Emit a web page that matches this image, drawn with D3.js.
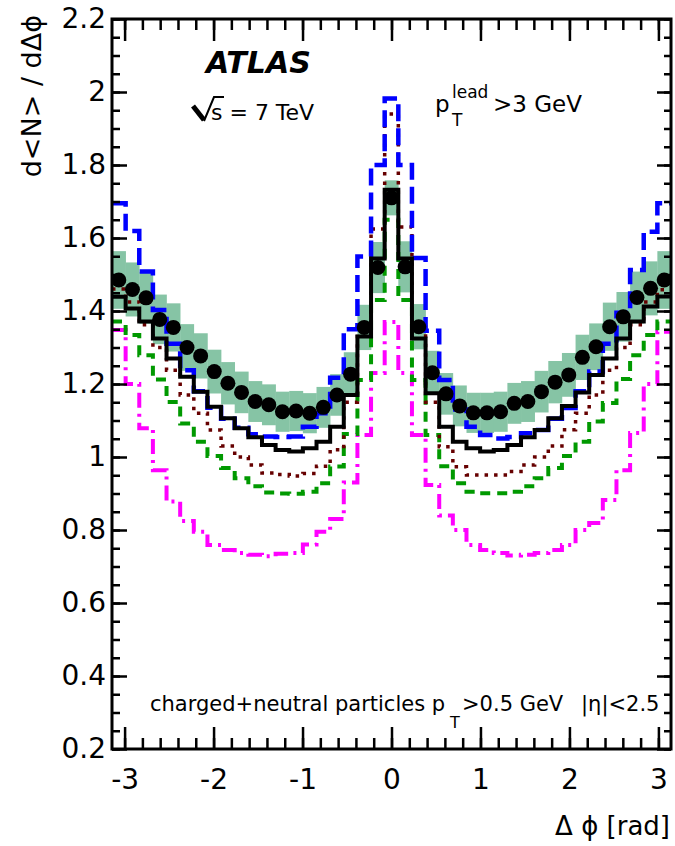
<!DOCTYPE html>
<html><head><meta charset="utf-8">
<script src="https://cdn.jsdelivr.net/npm/d3@7"></script>
<style>body{margin:0;background:#fff}svg{display:block}text{font-family:"DejaVu Sans",sans-serif;fill:#000}</style>
</head><body><svg id="c" width="675" height="846"></svg>
<script>
// ---- data (41 bins over -pi..pi) ----
const nBins = 41;
const dataVals = [1.485,1.459,1.436,1.377,1.355,1.300,1.277,1.234,1.202,1.177,1.152,1.143,1.124,1.126,1.120,1.136,1.170,1.227,1.355,1.519,1.710,1.521,1.357,1.231,1.173,1.140,1.121,1.121,1.124,1.147,1.152,1.179,1.205,1.225,1.273,1.302,1.357,1.384,1.437,1.462,1.485];
const dataErr = [0.079,0.074,0.071,0.068,0.066,0.064,0.062,0.060,0.058,0.057,0.056,0.056,0.055,0.055,0.055,0.056,0.057,0.060,0.062,0.070,0.048,0.070,0.062,0.060,0.057,0.056,0.055,0.055,0.055,0.056,0.056,0.057,0.058,0.060,0.062,0.064,0.066,0.068,0.071,0.074,0.079];
const blackVals = [1.439,1.407,1.371,1.325,1.270,1.220,1.179,1.138,1.106,1.079,1.054,1.033,1.019,1.015,1.024,1.042,1.083,1.170,1.330,1.544,1.732,1.544,1.325,1.175,1.083,1.042,1.024,1.015,1.019,1.033,1.054,1.074,1.106,1.140,1.177,1.225,1.270,1.325,1.371,1.412,1.440];
const blueVals = [1.695,1.619,1.508,1.403,1.310,1.238,1.180,1.135,1.105,1.080,1.062,1.056,1.055,1.056,1.083,1.120,1.217,1.350,1.549,1.800,1.982,1.800,1.545,1.346,1.211,1.130,1.083,1.060,1.051,1.055,1.065,1.074,1.105,1.134,1.180,1.234,1.310,1.395,1.512,1.617,1.695];
const brownVals = [1.460,1.425,1.362,1.300,1.238,1.170,1.120,1.074,1.030,1.000,0.978,0.956,0.952,0.948,0.955,0.975,1.020,1.150,1.354,1.625,1.940,1.630,1.356,1.150,1.028,0.973,0.951,0.951,0.951,0.960,0.978,1.000,1.030,1.075,1.120,1.170,1.238,1.300,1.362,1.425,1.458];
const greenVals = [1.371,1.334,1.279,1.212,1.151,1.092,1.042,1.003,0.970,0.942,0.920,0.903,0.900,0.899,0.905,0.928,0.974,1.063,1.211,1.430,1.650,1.430,1.211,1.060,0.975,0.928,0.905,0.901,0.901,0.905,0.920,0.942,0.970,1.003,1.042,1.097,1.148,1.214,1.279,1.334,1.371];
const magentaVals = [1.348,1.200,1.079,0.964,0.878,0.825,0.795,0.759,0.745,0.737,0.732,0.728,0.735,0.737,0.760,0.795,0.830,0.930,1.060,1.230,1.370,1.230,1.060,0.923,0.840,0.800,0.759,0.745,0.737,0.730,0.732,0.737,0.745,0.759,0.800,0.819,0.882,0.964,1.066,1.200,1.343];
const xTickVals = [-3,-2,-1,0,1,2,3];
const xTickLabels = ["-3","-2","-1","0","1","2","3"];
const yTickVals = [0.2,0.4,0.6,0.8,1.0,1.2,1.4,1.6,1.8,2.0,2.2];
const yTickLabels = ["0.2","0.4","0.6","0.8","1","1.2","1.4","1.6","1.8","2","2.2"];

// ---- layout ----
const L = 112, R = 671, T = 19, B = 749;
const svg = d3.select("#c");
const x = d3.scaleLinear().domain([-Math.PI, Math.PI]).range([L, R]);
const y = d3.scaleLinear().domain([0.2, 2.2]).range([B, T]);
const bw = 2*Math.PI/nBins;
const lo = i => -Math.PI + i*bw, hi = i => -Math.PI + (i+1)*bw, mid = i => -Math.PI + (i+0.5)*bw;

svg.append("defs").append("clipPath").attr("id","clip").append("rect")
  .attr("x",L).attr("y",T).attr("width",R-L).attr("height",B-T);
const g = svg.append("g").attr("clip-path","url(#clip)");

// band
g.selectAll("rect.band").data(dataVals).join("rect").attr("class","band")
  .attr("x",(d,i)=>x(lo(i))).attr("width",(d,i)=>x(hi(i))-x(lo(i))+0.3)
  .attr("y",(d,i)=>y(d+dataErr[i])).attr("height",(d,i)=>y(d-dataErr[i])-y(d+dataErr[i]))
  .attr("fill","#86c4a5");

const stepLine = d3.line().x(p=>x(p[0])).y(p=>y(p[1]));
function hist(vals, color, width, dash){
  const pts = [];
  vals.forEach((v,i)=>{pts.push([lo(i),v]);pts.push([hi(i),v]);});
  g.append("path").attr("d",stepLine(pts)).attr("fill","none")
    .attr("stroke",color).attr("stroke-width",width)
    .attr("stroke-dasharray",dash||null).attr("stroke-linejoin","miter");
}
hist(magentaVals,"#ff00ff",4,"15,6,3,6");
hist(greenVals,"#009900",4,"10,7");
hist(brownVals,"#660000",3.5,"3.5,6");
hist(blueVals,"#0000ff",4.5,"17,7");
hist(blackVals,"#000",4);

g.selectAll("circle.pt").data(dataVals).join("circle").attr("class","pt")
  .attr("cx",(d,i)=>x(mid(i))).attr("cy",d=>y(d)).attr("r",7.5).attr("fill","#000");

// ---- axes ----
const xMinor = d3.range(-3.0, 3.01, 0.2).map(v=>+v.toFixed(2));
const yMinor = d3.range(0.2, 2.201, 0.05).map(v=>+v.toFixed(2));
function styleAx(sel){ sel.select(".domain").remove(); sel.selectAll("line").attr("stroke","#000").attr("stroke-width",2.5); sel.selectAll("text").style("font-size","28px").attr("fill","#000"); }

svg.append("g").attr("transform",`translate(0,${B})`).call(d3.axisBottom(x).tickValues(xMinor).tickSize(-11).tickFormat("")).call(styleAx);
svg.append("g").attr("transform",`translate(0,${B})`).call(d3.axisBottom(x).tickValues(xTickVals).tickSize(-22).tickPadding(20).tickFormat((d,i)=>xTickLabels[i])).call(styleAx);
svg.append("g").attr("transform",`translate(0,${T})`).call(d3.axisTop(x).tickValues(xMinor).tickSize(-11).tickFormat("")).call(styleAx);
svg.append("g").attr("transform",`translate(0,${T})`).call(d3.axisTop(x).tickValues(xTickVals).tickSize(-22).tickFormat("")).call(styleAx);

svg.append("g").attr("transform",`translate(${L},0)`).call(d3.axisLeft(y).tickValues(yMinor).tickSize(-8).tickFormat("")).call(styleAx);
svg.append("g").attr("transform",`translate(${L},0)`).call(d3.axisLeft(y).tickValues(yTickVals).tickSize(-15).tickPadding(6).tickFormat((d,i)=>yTickLabels[i])).call(styleAx);
svg.append("g").attr("transform",`translate(${R},0)`).call(d3.axisRight(y).tickValues(yMinor).tickSize(-7).tickFormat("")).call(styleAx);
svg.append("g").attr("transform",`translate(${R},0)`).call(d3.axisRight(y).tickValues(yTickVals).tickSize(-14).tickFormat("")).call(styleAx);

svg.append("rect").attr("x",L).attr("y",T).attr("width",R-L).attr("height",B-T)
  .attr("fill","none").attr("stroke","#000").attr("stroke-width",3);

// ---- titles ----
svg.append("text").attr("x",670).attr("y",835).attr("text-anchor","end").style("font-size","26px").text("Δ ϕ [rad]");
svg.append("text").attr("transform","translate(41,15) rotate(-90)").attr("text-anchor","end").style("font-size","27px").text("d<N> / dΔϕ");

svg.append("text").attr("x",206).attr("y",73).style("font-size","30px").style("font-weight","bold").style("font-style","italic").text("ATLAS");
// sqrt(s)
svg.append("path").attr("d","M193,106 L204,120").attr("stroke","#000").attr("stroke-width",5).attr("fill","none");
svg.append("path").attr("d","M204,121 L214,97 L224,97").attr("stroke","#000").attr("stroke-width",2).attr("fill","none");
svg.append("text").attr("x",211).attr("y",120).style("font-size","22px").text("s = 7 TeV");

const pt = svg.append("text").attr("x",435).attr("y",112).style("font-size","23px");
pt.append("tspan").text("p");
pt.append("tspan").attr("x",452).attr("y",98).style("font-size","17px").text("lead");
pt.append("tspan").attr("x",452).attr("y",126).style("font-size","17px").text("T");
pt.append("tspan").attr("x",493).attr("y",112).text(">3 GeV");

const bt = svg.append("text").attr("x",150).attr("y",711).style("font-size","21px");
bt.append("tspan").text("charged+neutral particles p");
svg.append("text").attr("x",450).attr("y",728).style("font-size","16px").text("T");
const bt2 = svg.append("text").attr("x",462).attr("y",711).style("font-size","21px");
bt2.append("tspan").text(">0.5 GeV");
bt2.append("tspan").attr("x",581).text("|η|<2.5");
</script></body></html>
